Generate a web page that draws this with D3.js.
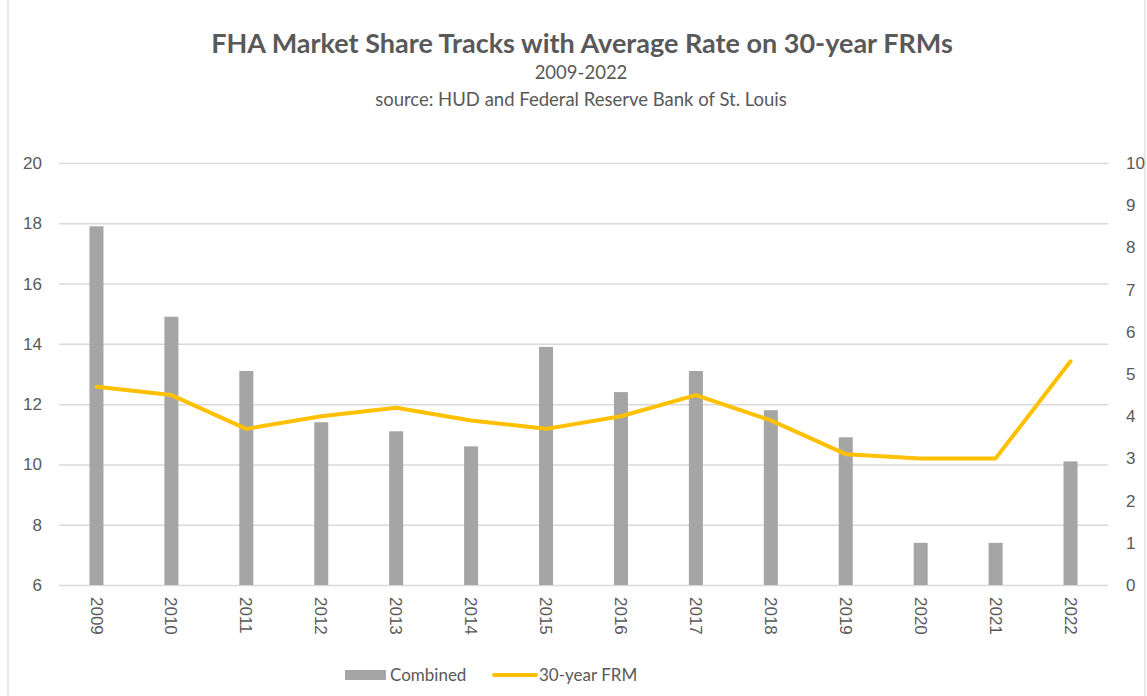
<!DOCTYPE html>
<html>
<head>
<meta charset="utf-8">
<script src="https://cdn.jsdelivr.net/npm/d3@7"></script>
<style>
  body { margin: 0; background: #fff; }
  svg { display: block; font-family: Lato, "Open Sans", sans-serif; }
  .axis text { fill: #595959; font-size: 17px; }
  .grid line { stroke: #d9d9d9; stroke-width: 1.5; }
</style>
</head>
<body>
<div id="chart"></div>
<script>
const years = ['2009','2010','2011','2012','2013','2014','2015','2016','2017','2018','2019','2020','2021','2022'];
const combined = [17.9, 14.9, 13.1, 11.4, 11.1, 10.6, 13.9, 12.4, 13.1, 11.8, 10.9, 7.4, 7.4, 10.1];
const frm30 = [4.7, 4.5, 3.7, 4.0, 4.2, 3.9, 3.7, 4.0, 4.5, 3.9, 3.1, 3.0, 3.0, 5.3];
const leftTicks = [6, 8, 10, 12, 14, 16, 18, 20];
const rightTicks = [0, 1, 2, 3, 4, 5, 6, 7, 8, 9, 10];

const w = 1147, h = 696;
const margin = {top: 163, right: 39, bottom: 111, left: 59};

const svg = d3.select('#chart').append('svg')
  .attr('width', w)
  .attr('height', h);

// outer chart border
svg.append('rect')
  .attr('x', 8).attr('y', -2)
  .attr('width', 1137).attr('height', h + 4)
  .attr('fill', 'none')
  .attr('stroke', '#d9d9d9')
  .attr('stroke-width', 1.2);

const x = d3.scaleBand()
  .domain(years)
  .range([margin.left, w - margin.right])
  .paddingInner(0.813)
  .paddingOuter(0.4065);

const yLeft = d3.scaleLinear().domain([6, 20]).range([h - margin.bottom, margin.top]);
const yRight = d3.scaleLinear().domain([0, 10]).range([h - margin.bottom, margin.top]);

// gridlines
svg.append('g')
  .attr('class', 'grid')
  .attr('transform', 'translate(' + margin.left + ',0)')
  .call(d3.axisLeft(yLeft).tickValues(leftTicks).tickSize(-(w - margin.left - margin.right)).tickFormat(''))
  .call(g => g.select('.domain').remove());

// left axis labels
svg.append('g')
  .attr('class', 'axis')
  .attr('transform', 'translate(' + margin.left + ',0)')
  .call(d3.axisLeft(yLeft).tickValues(leftTicks).tickSize(0).tickPadding(17))
  .call(g => g.select('.domain').remove());

// right axis labels
svg.append('g')
  .attr('class', 'axis')
  .attr('transform', 'translate(' + (w - margin.right) + ',0)')
  .call(d3.axisRight(yRight).tickValues(rightTicks).tickSize(0).tickPadding(18))
  .call(g => g.select('.domain').remove());

// bars
svg.selectAll('.bar')
  .data(years)
  .enter().append('rect')
  .attr('class', 'bar')
  .attr('x', d => x(d))
  .attr('y', (d, i) => yLeft(combined[i]))
  .attr('width', x.bandwidth())
  .attr('height', (d, i) => yLeft(6) - yLeft(combined[i]))
  .attr('fill', '#a5a5a5');

// x axis labels, rotated
const xaxis = svg.append('g')
  .attr('class', 'axis x')
  .attr('transform', 'translate(0,' + (h - margin.bottom) + ')')
  .call(d3.axisBottom(x).tickSize(0))
  .call(g => g.select('.domain').remove());

xaxis.selectAll('text')
  .attr('transform', 'rotate(90)')
  .attr('x', 12)
  .attr('y', 0)
  .attr('dy', '0.35em')
  .style('text-anchor', 'start');

// rate line
const line = d3.line()
  .x((d, i) => x(years[i]) + x.bandwidth() / 2)
  .y(d => yRight(d));

svg.append('path')
  .datum(frm30)
  .attr('fill', 'none')
  .attr('stroke', '#ffc000')
  .attr('stroke-width', 4)
  .attr('stroke-linecap', 'round')
  .attr('stroke-linejoin', 'round')
  .attr('d', line);

// titles
svg.append('text')
  .attr('x', 582).attr('y', 53)
  .attr('text-anchor', 'middle')
  .attr('fill', '#595959')
  .style('font-size', '27px')
  .style('font-weight', 'bold')
  .text('FHA Market Share Tracks with Average Rate on 30-year FRMs');

svg.append('text')
  .attr('x', 581).attr('y', 79)
  .attr('text-anchor', 'middle')
  .attr('fill', '#595959')
  .style('font-size', '18.5px')
  .text('2009-2022');

svg.append('text')
  .attr('x', 581).attr('y', 106)
  .attr('text-anchor', 'middle')
  .attr('fill', '#595959')
  .style('font-size', '18.5px')
  .text('source: HUD and Federal Reserve Bank of St. Louis');

// legend
const legend = svg.append('g').attr('transform', 'translate(0,675)');

legend.append('rect')
  .attr('x', 345).attr('y', -5)
  .attr('width', 41).attr('height', 10)
  .attr('fill', '#a5a5a5');

legend.append('text')
  .attr('x', 390).attr('y', 0).attr('dy', '0.35em')
  .attr('fill', '#595959')
  .style('font-size', '17px')
  .text('Combined');

legend.append('line')
  .attr('x1', 494).attr('x2', 536)
  .attr('y1', 0).attr('y2', 0)
  .attr('stroke', '#ffc000')
  .attr('stroke-width', 4)
  .attr('stroke-linecap', 'round');

legend.append('text')
  .attr('x', 539).attr('y', 0).attr('dy', '0.35em')
  .attr('fill', '#595959')
  .style('font-size', '17px')
  .text('30-year FRM');
</script>
</body>
</html>
